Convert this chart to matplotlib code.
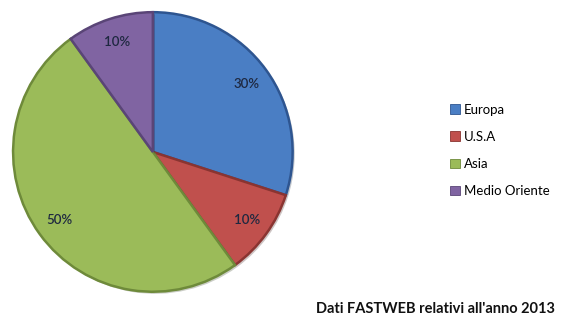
import matplotlib.pyplot as plt
import matplotlib.patheffects as pe
from matplotlib.patches import Patch

labels = ['Europa', 'U.S.A', 'Asia', 'Medio Oriente']
shares = [30, 10, 50, 10]
colors = ['#4A7EC4', '#C0504D', '#9BBB59', '#8064A2']
edges = ['#2E5590', '#8A3431', '#6E8A3A', '#5A4577']

fig = plt.figure(figsize=(5.63, 3.28), dpi=100)
ax = fig.add_axes([0.0195, 0.1037, 0.504, 0.866])

wedges, texts, autotexts = ax.pie(
    shares, colors=colors, startangle=90, counterclock=False,
    autopct='%d%%', pctdistance=0.83,
    wedgeprops=dict(linewidth=1.8),
    textprops=dict(fontsize=9.5, color='#1E2840', family='Lato', fontweight='semibold'),
)
for w, ec in zip(wedges, edges):
    w.set_edgecolor(ec)
    w.set_path_effects([pe.SimplePatchShadow(offset=(1.5, -1.5), alpha=0.25), pe.Normal()])
ax.set_xlim(-1.015, 1.015)
ax.set_ylim(-1.015, 1.015)
ax.set_aspect('equal')

handles = [Patch(facecolor=c, edgecolor=e, linewidth=0.6) for c, e in zip(colors, edges)]
fig.legend(handles, labels, loc='upper left', bbox_to_anchor=(0.778, 0.72),
           frameon=False, handlelength=0.75, handleheight=0.75,
           handletextpad=0.3, labelspacing=1.15, prop=dict(family='Lato', size=9.5))

fig.text(0.985, 0.057, "Dati FASTWEB relativi all'anno 2013", ha='right', va='center',
         fontsize=10.5, fontweight='bold', family='Lato', color='#111111')

fig.savefig('out.png', dpi=100)
